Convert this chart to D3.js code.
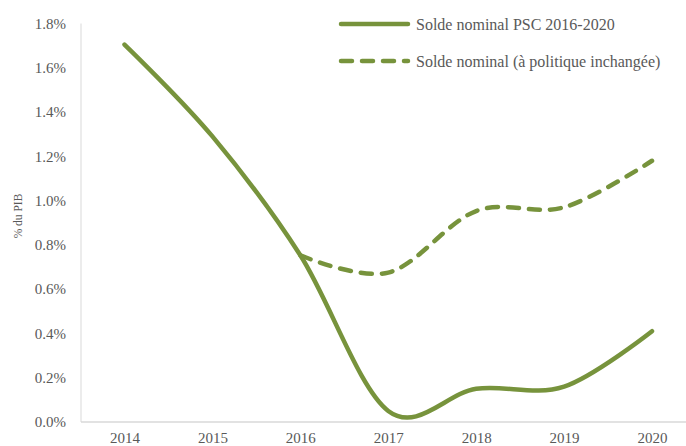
<!DOCTYPE html>
<html><head><meta charset="utf-8">
<script src="https://cdn.jsdelivr.net/npm/d3@7"></script>
<style>body{margin:0;background:#fff}svg{display:block}svg text{font-family:"Liberation Serif","Times New Roman",serif !important}</style>
</head><body><svg id="c" width="686" height="446"></svg>
<script>
const years = ["2014","2015","2016","2017","2018","2019","2020"];
const psc = [1.705, 1.29, 0.753, 0.05, 0.15, 0.16, 0.41];
const pscLabel = "Solde nominal PSC 2016-2020";
const inchYears = ["2016","2017","2018","2019","2020"];
const inch = [0.753, 0.675, 0.953, 0.97, 1.18];
const inchLabel = "Solde nominal (à politique inchangée)";
const yTicks = [0,0.2,0.4,0.6,0.8,1.0,1.2,1.4,1.6,1.8];
const yTitle = "% du PIB";

const svg = d3.select("#c");
const green = "#77933C", txt = "#595959", axisCol = "#d9d9d9";

const x = d3.scalePoint().domain(years).range([124.5, 652]);
const y = d3.scaleLinear().domain([0,1.8]).range([422, 23.5]);

// axes lines
svg.append("line").attr("x1",81).attr("x2",81).attr("y1",y(1.8)).attr("y2",y(0)).attr("stroke",axisCol).attr("stroke-width",1);
svg.append("line").attr("x1",81).attr("x2",686).attr("y1",y(0)).attr("y2",y(0)).attr("stroke",axisCol).attr("stroke-width",1.3);

// y tick labels
const yAx = svg.append("g").attr("transform","translate(66,0)")
  .call(d3.axisLeft(y).tickValues(yTicks).tickSize(0).tickPadding(0).tickFormat(d=>d.toFixed(1)+"%"));
yAx.attr("font-family",null).attr("font-size",15);
yAx.select(".domain").remove();
yAx.selectAll("text").attr("fill",txt);

// x tick labels
const xAx = svg.append("g").attr("transform",`translate(0,${y(0)})`)
  .call(d3.axisBottom(x).tickSize(0).tickPadding(10));
xAx.attr("font-family",null).attr("font-size",15);
xAx.select(".domain").remove();
xAx.selectAll("text").attr("fill",txt);

// y title
svg.append("text").attr("transform","translate(22,216) rotate(-90)").attr("text-anchor","middle")
  .attr("fill",txt).attr("font-size",11.5).text(yTitle);

const line = d3.line().x(d=>x(d[0])).y(d=>y(d[1])).curve(d3.curveCardinal.tension(0));

svg.append("path").datum(years.map((yr,i)=>[yr,psc[i]])).attr("d",line)
  .attr("fill","none").attr("stroke",green).attr("stroke-width",4.5).attr("stroke-linecap","round").attr("stroke-linejoin","round");
svg.append("path").datum(inchYears.map((yr,i)=>[yr,inch[i]])).attr("d",line)
  .attr("fill","none").attr("stroke",green).attr("stroke-width",4.5).attr("stroke-linecap","round").attr("stroke-dasharray","11,10");

// legend
const lg = svg.append("g").attr("font-size",16).attr("fill",txt);
lg.append("line").attr("x1",341).attr("x2",408).attr("y1",24).attr("y2",24).attr("stroke",green).attr("stroke-width",4.5).attr("stroke-linecap","round");
lg.append("text").attr("x",416).attr("y",29.5).text(pscLabel);
lg.append("line").attr("x1",341).attr("x2",408).attr("y1",61).attr("y2",61).attr("stroke",green).attr("stroke-width",4.5).attr("stroke-linecap","round").attr("stroke-dasharray","11,10");
lg.append("text").attr("x",416).attr("y",66.5).text(inchLabel);
</script></body></html>
